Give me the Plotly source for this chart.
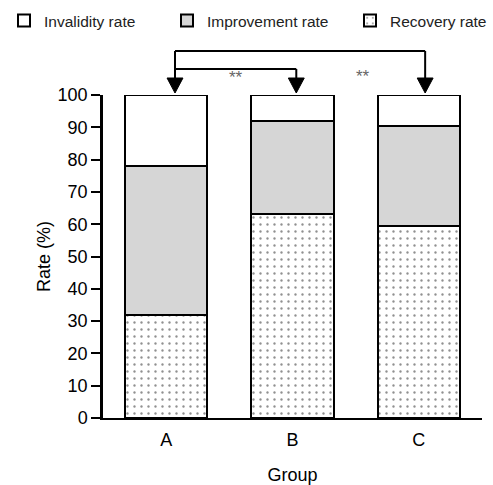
import plotly.graph_objects as go

# ---- data ----
groups = ["A", "B", "C"]
recovery = [32, 63.3, 59.5]
improvement = [46, 28.7, 31]
invalidity = [22, 8, 9.5]
series_names = ["Invalidity rate", "Improvement rate", "Recovery rate"]
y_ticks = list(range(0, 101, 10))
sig_labels = ["**", "**"]

FONT = "Liberation Sans, Arial, sans-serif"

fig = go.Figure()

fig.add_trace(go.Bar(
    x=groups, y=recovery, name=series_names[2], legend="legend3",
    marker=dict(color="white", line=dict(color="black", width=2),
                pattern=dict(shape=".", fgcolor="#222222", bgcolor="white",
                             size=7, solidity=0.09, fillmode="overlay")),
    width=0.65,
))
fig.add_trace(go.Bar(
    x=groups, y=improvement, name=series_names[1], legend="legend2",
    marker=dict(color="#d6d6d6", line=dict(color="black", width=2)),
    width=0.65,
))
fig.add_trace(go.Bar(
    x=groups, y=invalidity, name=series_names[0], legend="legend",
    marker=dict(color="white", line=dict(color="black", width=2)),
    width=0.65,
))

# ---- significance brackets (paper y above the plot) ----
def py(px):  # pixel row -> paper y  (plot spans rows 95..418)
    return (418 - px) / 323.0

xa, xb, xc = 0.07, 1.03, 2.05   # arrow positions (category units)
y_top, y_mid, y_head, y_tip = py(51), py(69), py(78), py(93)
hw = 0.063
shapes = []
line = dict(color="black", width=2)
shapes.append(dict(type="line", xref="x", yref="paper", x0=xa, x1=xc, y0=y_top, y1=y_top, line=line))
shapes.append(dict(type="line", xref="x", yref="paper", x0=xa, x1=xb, y0=y_mid, y1=y_mid, line=line))
shapes.append(dict(type="line", xref="x", yref="paper", x0=xa, x1=xa, y0=y_top, y1=y_head, line=line))
shapes.append(dict(type="line", xref="x", yref="paper", x0=xb, x1=xb, y0=y_mid, y1=y_head, line=line))
shapes.append(dict(type="line", xref="x", yref="paper", x0=xc, x1=xc, y0=y_top, y1=y_head, line=line))
for xv in (xa, xb, xc):
    shapes.append(dict(type="path", xref="x", yref="paper",
                       path=f"M{xv-hw},{y_head} L{xv+hw},{y_head} L{xv},{y_tip} Z",
                       fillcolor="black", line=dict(color="black", width=1)))

annotations = [
    dict(text=sig_labels[0], x=(xa + xb) / 2, y=py(66), xref="x", yref="paper",
         showarrow=False, font=dict(size=17, color="#666666", family=FONT)),
    dict(text=sig_labels[1], x=1.56, y=py(65), xref="x", yref="paper",
         showarrow=False, font=dict(size=17, color="#666666", family=FONT)),
]

leg_common = dict(orientation="h", xref="container", yref="container",
                  yanchor="top", y=1.0 - 4 / 485, bgcolor="rgba(0,0,0,0)",
                  font=dict(size=15.5, family=FONT, color="#222222"))

fig.update_layout(
    width=493, height=485,
    margin=dict(l=103, r=11, t=95, b=67, autoexpand=False),
    paper_bgcolor="white", plot_bgcolor="white",
    barmode="stack",
    font=dict(family=FONT, color="black"),
    showlegend=True,
    legend=dict(x=4 / 493, **leg_common),
    legend2=dict(x=167 / 493, **leg_common),
    legend3=dict(x=350 / 493, **leg_common),
    shapes=shapes,
    annotations=annotations,
    xaxis=dict(range=[-0.5, 2.5], showline=True, linecolor="black", linewidth=2,
               ticks="outside", ticklen=4, tickcolor="rgba(0,0,0,0)", automargin=False,
               tickfont=dict(size=18, family=FONT, color="black"),
               title=dict(text="Group", font=dict(size=18, family=FONT, color="black"), standoff=22),
               showgrid=False, zeroline=False),
    yaxis=dict(range=[0, 100], tickvals=y_ticks, showline=True, linecolor="black", linewidth=2.5,
               ticks="outside", ticklen=9, tickwidth=2, tickcolor="black", automargin=False,
               tickfont=dict(size=18, family=FONT, color="black"),
               title=dict(text="Rate (%)", font=dict(size=18, family=FONT, color="black"), standoff=3),
               showgrid=False, zeroline=False),
)

fig.write_html("out.html", config={"displayModeBar": False},
               post_script="document.body.style.margin='0';document.body.style.overflow='hidden';")
